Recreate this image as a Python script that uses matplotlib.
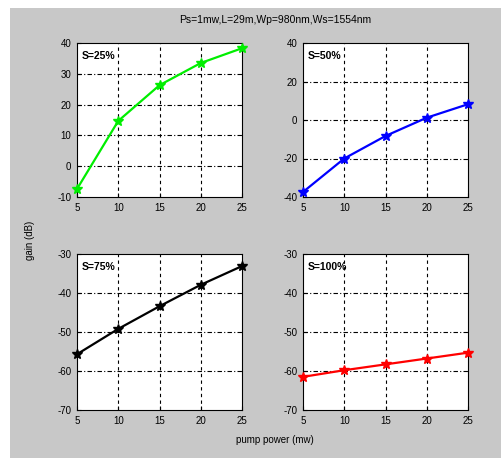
import numpy as np
import matplotlib.pyplot as plt
from matplotlib.patches import Rectangle

plt.rcParams['font.family'] = ['Liberation Sans', 'DejaVu Sans']
plt.rcParams['axes.unicode_minus'] = False

pump_power = [5, 10, 15, 20, 25]
gain_s25 = [-7.4, 14.7, 26.3, 33.5, 38.3]
gain_s50 = [-37.4, -20.0, -8.3, 1.2, 8.2]
gain_s75 = [-55.7, -49.2, -43.4, -37.9, -33.1]
gain_s100 = [-61.5, -59.8, -58.3, -56.8, -55.3]

labels = ['S=25%', 'S=50%', 'S=75%', 'S=100%']
series = [gain_s25, gain_s50, gain_s75, gain_s100]
colors = ['#00ee00', '#0000ff', '#000000', '#ff0000']
y_limits = [(-10, 40), (-40, 40), (-70, -30), (-70, -30)]
y_ticks = [np.arange(-10, 41, 10), np.arange(-40, 41, 20),
           np.arange(-70, -29, 10), np.arange(-70, -29, 10)]

W, H = 502, 458
fig = plt.figure(figsize=(W / 100, H / 100), dpi=100)
fig.patch.set_facecolor('white')
fig.patches.append(Rectangle((10 / W, 0), 1, 1 - 8 / H, transform=fig.transFigure,
                             facecolor='#c8c8c8', edgecolor='none', zorder=-10))

# axes boxes in pixels: left, top, right, bottom
boxes = [(77, 43, 242, 197), (303, 43, 468, 197),
         (77, 254, 242, 410), (303, 254, 468, 410)]

for box, lab, vals, col, ylim, yt in zip(boxes, labels, series, colors, y_limits, y_ticks):
    l, t, r, b = box
    ax = fig.add_axes([l / W, 1 - b / H, (r - l) / W, (b - t) / H])
    ax.set_facecolor('white')
    ax.plot(pump_power, vals, color=col, lw=1.6, marker='*', markersize=7,
            zorder=3, clip_on=False)
    ax.set_xlim(5, 25)
    ax.set_ylim(*ylim)
    ax.set_xticks(pump_power)
    ax.set_yticks(yt)
    for x in pump_power[1:-1]:
        ax.axvline(x, color='black', lw=0.8, ls=(0, (3, 3)), zorder=1)
    for y in yt[1:-1]:
        ax.axhline(y, color='black', lw=0.8, ls=(0, (4, 2, 1, 2)), zorder=1)
    ax.tick_params(direction='in', labelsize=7, length=3, pad=4)
    for sp in ax.spines.values():
        sp.set_linewidth(0.8)
    ax.text(0.03, 0.95, lab, transform=ax.transAxes, fontsize=7.5,
            ha='left', va='top', fontweight='bold')

fig.text(275 / W, 1 - 20 / H, 'Ps=1mw,L=29m,Wp=980nm,Ws=1554nm',
         ha='center', va='center', fontsize=7.5)
fig.text(30 / W, 1 - 240 / H, 'gain (dB)', rotation=90,
         ha='center', va='center', fontsize=7)
fig.text(275 / W, 1 - 440 / H, 'pump power (mw)',
         ha='center', va='center', fontsize=7)

fig.savefig('out.png', dpi=100)
